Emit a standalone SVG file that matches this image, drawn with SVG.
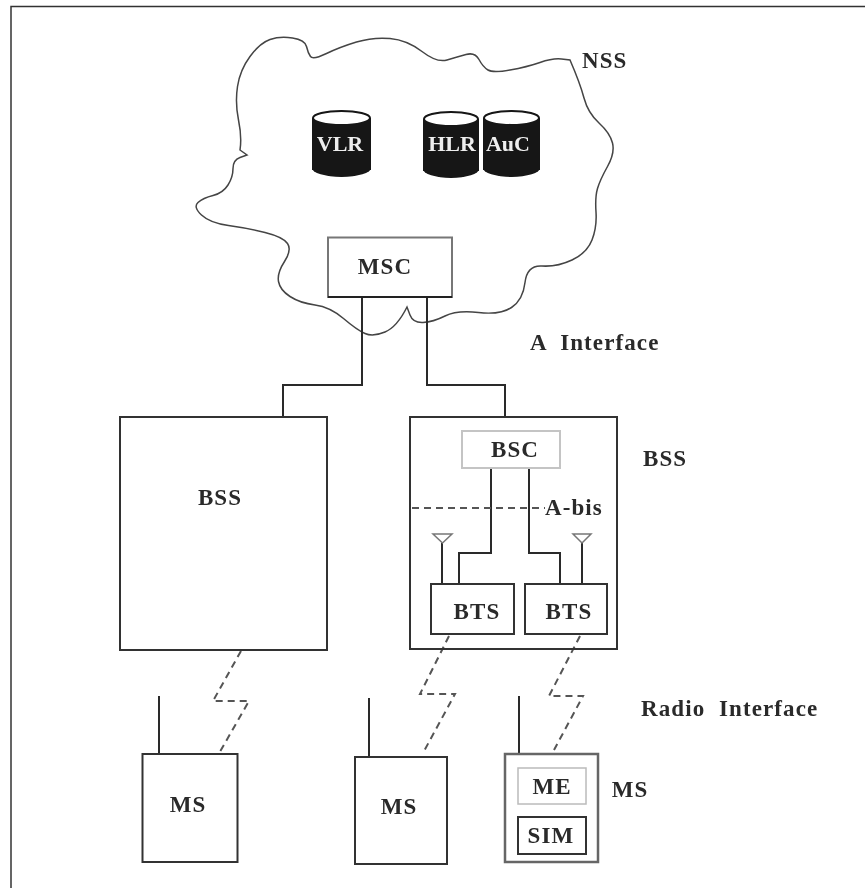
<svg xmlns="http://www.w3.org/2000/svg" width="865" height="888" viewBox="0 0 865 888">
<style>
text{font-family:"Liberation Serif","Times New Roman",serif;font-weight:bold;font-size:23px;letter-spacing:1.100px;fill:#2a2a2a;text-anchor:middle;dominant-baseline:central}
.t{text-anchor:start}
.c{font-size:22px;letter-spacing:0;fill:#eee}
.b{fill:#fff;stroke:#333;stroke-width:2}
.l{fill:none;stroke:#2a2a2a;stroke-width:2}
.d{fill:none;stroke:#555;stroke-width:2;stroke-dasharray:7 5}
.cy{fill:#141414}
.top{fill:#fff;stroke:#141414;stroke-width:2}
</style>
<defs><filter id="soft" x="0" y="0" width="100%" height="100%"><feGaussianBlur stdDeviation="0.45"/></filter></defs>
<g filter="url(#soft)">
<rect width="865" height="888" fill="#fff"/>
<path d="M11,888V6.500H865" fill="none" stroke="#333" stroke-width="1.500"/>
<g id="nss-cloud">
<path d="M570,60 Q580,83 584,98 Q588,113 599,123 Q610,133 612.500,143 Q615,153 607.500,166.500 Q600,180 597.500,188.500 Q595,197 596,212 Q597,227 592,240 Q587,253 572,260 Q557,267 542,266 Q527,265 525,282.500 Q523,300 511.500,307.500 Q500,315 478.500,312.500 Q457,310 445,316 Q433,322 423,322.500 Q413,323 410,315 L407,307 Q397,327 385,332 Q373,337 365,333.500 Q357,330 343.500,318.500 Q330,307 315,305 Q300,303 290,296.500 Q280,290 278.500,281.500 Q277,273 284.500,261.500 Q292,250 287.500,243.500 Q283,237 265,232.500 Q247,228 228.500,225.500 Q210,223 201.500,215 Q193,207 198,202.500 Q203,198 213,195.500 Q223,193 228,185 Q233,177 233,168.500 Q233,160 240,157.500 L247,155 L240,150 Q242,137 238.500,120 Q235,103 237.500,86.500 Q240,70 250,56.500 Q260,43 270,39.500 Q280,36 292.500,38 Q305,40 306.500,46.500 Q308,53 310.500,56.500 Q313,60 326.500,53.500 Q340,47 356.500,42 Q373,37 390,38.500 Q407,40 422,51.500 Q437,63 447,60 Q457,57 466,54.500 Q475,52 479,59.500 Q483,67 488,70 Q493,73 510,70 Q527,67 540,62.500 Q553,58 561.500,59 Z" fill="#fff" stroke="#444" stroke-width="1.500"/>
<text class="t" x="582" y="60">NSS</text>
</g>
<g id="vlr"><rect class="cy" x="312" y="118" width="59" height="52"/><ellipse class="cy" cx="341.500" cy="168" rx="29.500" ry="9"/><ellipse class="top" cx="341.500" cy="118" rx="28.500" ry="7"/><text class="c" x="340" y="143">VLR</text></g>
<g id="hlr"><rect class="cy" x="423" y="119" width="56" height="52"/><ellipse class="cy" cx="451" cy="169" rx="28" ry="9"/><ellipse class="top" cx="451" cy="119" rx="27" ry="7"/><text class="c" x="452" y="143">HLR</text></g>
<g id="auc"><rect class="cy" x="483" y="118" width="57" height="52"/><ellipse class="cy" cx="511.500" cy="168" rx="28.500" ry="9"/><ellipse class="top" cx="511.500" cy="118" rx="27.500" ry="7"/><text class="c" x="508" y="143">AuC</text></g>
<g id="connectors">
<path class="l" d="M362,297V385H283V417"/>
<path class="l" d="M427,297V385H505V417"/>
<path class="l" d="M491,468V553H459V584"/>
<path class="l" d="M529,468V553H560V584"/>
<path class="l" d="M442,543V584"/>
<path class="l" d="M582,543V584"/>
<path class="d" d="M412,508H545"/>
<path class="d" d="M241,651L213,701H249L217,757"/>
<path class="d" d="M449,636L420,694H455L423,753"/>
<path class="d" d="M580,636L549,696H583L554,750"/>
<path class="l" d="M159,696V754"/>
<path class="l" d="M369,698V757"/>
<path class="l" d="M519,696V754"/>
<path d="M433,534H452L442.500,543Z M573,534H591L582,543Z" fill="#fff" stroke="#777" stroke-width="1.500"/>
</g>
<g id="msc"><rect x="328" y="237.500" width="124" height="59.500" fill="#fff" stroke="#777" stroke-width="2"/><path d="M328,297H452" stroke="#222" stroke-width="2"/><text x="385" y="266">MSC</text></g>
<g id="bss-left"><rect class="b" x="120" y="417" width="207" height="233"/><text x="220" y="497">BSS</text></g>
<g id="bss-right"><rect class="b" x="410" y="417" width="207" height="232" style="fill:none"/></g>
<g id="bsc"><rect x="462" y="431" width="98" height="37" fill="#fff" stroke="#c4c4c4" stroke-width="2"/><text x="515" y="449">BSC</text></g>
<g id="bts1"><rect class="b" x="431" y="584" width="83" height="50"/><text x="477" y="611">BTS</text></g>
<g id="bts2"><rect class="b" x="525" y="584" width="82" height="50"/><text x="569" y="611">BTS</text></g>
<g id="ms1"><rect class="b" x="142.500" y="754" width="95" height="108"/><text x="188" y="804">MS</text></g>
<g id="ms2"><rect class="b" x="355" y="757" width="92" height="107"/><text x="399" y="806">MS</text></g>
<g id="ms3"><rect x="505" y="754" width="93" height="108" fill="#fff" stroke="#666" stroke-width="2.500"/><text x="630" y="789">MS</text></g>
<g id="me"><rect x="518" y="768" width="68" height="36" fill="#fff" stroke="#bbb" stroke-width="1.500"/><text x="552" y="786">ME</text></g>
<g id="sim"><rect class="b" x="518" y="817" width="68" height="37"/><text x="551" y="835">SIM</text></g>
<g id="labels">
<text class="t" x="530" y="342" xml:space="preserve">A  Interface</text>
<text class="t" x="643" y="458">BSS</text>
<text class="t" x="545" y="507">A-bis</text>
<text class="t" x="641" y="708" xml:space="preserve">Radio  Interface</text>
</g>
</g>
</svg>
